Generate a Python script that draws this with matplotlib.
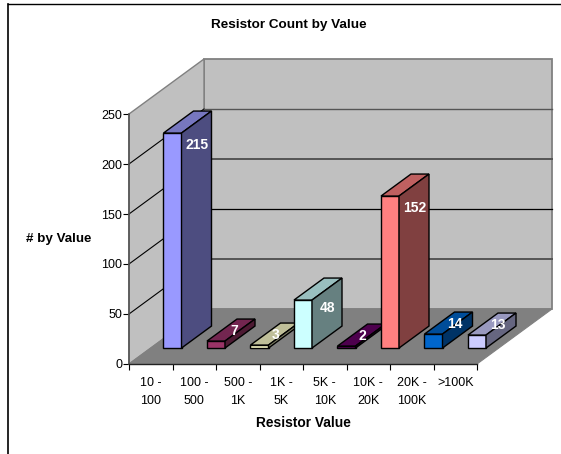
import matplotlib
matplotlib.use('Agg')
import matplotlib.pyplot as plt
from matplotlib.lines import Line2D
from matplotlib.patches import Polygon

plt.rcParams['font.family'] = ['Liberation Sans', 'DejaVu Sans']

# resistor counts per value range
categories = ['10 -\n100', '100 -\n500', '500 -\n1K', '1K -\n5K', '5K -\n10K',
              '10K -\n20K', '20K -\n100K', '>100K']
counts = [215, 7, 3, 48, 2, 152, 14, 13]
bar_colors = ['#9999FF', '#993366', '#FFFFCC', '#CCFFFF', '#660066', '#FF8080',
              '#0066CC', '#CCCCFF']
top_colors = ['#7777BF', '#732650', '#BFBF99', '#99BFBF', '#4D004D', '#BF6060',
              '#004D99', '#9999BF']
side_colors = ['#4D4D80', '#4D1A33', '#808066', '#668080', '#330033', '#804040',
               '#003366', '#666680']
y_ticks = [0, 50, 100, 150, 200, 250]

W, H = 561, 454
# depth of the 3d box, in axis units
DEPTH_X = 75 / 43.5
DEPTH_Y = 55
BAR_WIDTH = 0.414
BAR_FRONT = 0.29
BAR_BACK = 0.69


def project(x, y, d):
    # shift a point from the front plane towards the back wall
    return (x + d * DEPTH_X, y + d * DEPTH_Y)


def face(ax, points, color, edge, lw, z):
    ax.add_patch(Polygon(points, closed=True, facecolor=color, edgecolor=edge,
                         linewidth=lw, zorder=z, clip_on=False, joinstyle='miter'))


fig = plt.figure(figsize=(W / 100, H / 100), dpi=100)
ax = fig.add_axes([129 / W, (H - 364) / H, 348 / W, 250 / H])
n = len(categories)
ax.set_xlim(0, n)
ax.set_ylim(0, 250)
ax.patch.set_visible(False)

# walls and floor
face(ax, [project(0, 0, 1), project(n, 0, 1), project(n, 250, 1), project(0, 250, 1)],
     '#C0C0C0', '#808080', 1.3, 1)
face(ax, [project(0, 0, 0), project(0, 0, 1), project(0, 250, 1), project(0, 250, 0)],
     '#C0C0C0', '#808080', 1.0, 1)
face(ax, [project(0, 0, 0), project(n, 0, 0), project(n, 0, 1), project(0, 0, 1)],
     '#808080', '#808080', 0.8, 1.1)

# gridlines run along the side wall and across the back wall
back_styles = {50: ('#555555', 1.4), 100: ('#000000', 0.9),
               150: ('#555555', 1.4), 200: ('#555555', 1.0)}
for level in y_ticks[1:-1]:
    p0 = project(0, level, 0)
    p1 = project(0, level, 1)
    p2 = project(n, level, 1)
    ax.plot([p0[0], p1[0]], [p0[1], p1[1]], color='black', lw=0.8, zorder=1.5, clip_on=False)
    ax.plot([p1[0], p2[0]], [p1[1], p2[1]], color=back_styles[level][0],
            lw=back_styles[level][1], zorder=1.5, clip_on=False)

# bars, front face plus top and right side
for i, value in enumerate(counts):
    x0 = i + 0.5 - BAR_WIDTH / 2
    x1 = i + 0.5 + BAR_WIDTH / 2
    z = 3 + i * 0.01
    face(ax, [project(x0, 0, BAR_FRONT), project(x1, 0, BAR_FRONT),
              project(x1, value, BAR_FRONT), project(x0, value, BAR_FRONT)],
         bar_colors[i], 'black', 1.0, z)
    face(ax, [project(x0, value, BAR_FRONT), project(x1, value, BAR_FRONT),
              project(x1, value, BAR_BACK), project(x0, value, BAR_BACK)],
         top_colors[i], 'black', 1.0, z)
    face(ax, [project(x1, 0, BAR_FRONT), project(x1, 0, BAR_BACK),
              project(x1, value, BAR_BACK), project(x1, value, BAR_FRONT)],
         side_colors[i], 'black', 1.0, z)

# value labels sit on the side of tall bars and over the top of short ones
for i, value in enumerate(counts):
    x, y = project(i + 0.5, value, BAR_FRONT)
    if value >= 40:
        x, y = x + 24.5 / 43.5, y - min(12, value / 6)
    else:
        x, y = x + (15 + value * 0.45) / 43.5, y + 10
    ax.text(x, y, str(value), color='white', fontsize=10, fontweight='bold',
            ha='center', va='center', zorder=5, clip_on=False)

# axes
for side in ['top', 'right']:
    ax.spines[side].set_visible(False)
ax.spines['left'].set_color('#555555')
ax.spines['left'].set_linewidth(1.2)
ax.spines['bottom'].set_color('#222222')
ax.spines['bottom'].set_linewidth(1.0)
ax.set_yticks(y_ticks)
ax.set_xticks(range(n + 1))
ax.set_xticklabels([])
ax.set_xticks([i + 0.5 for i in range(n)], minor=True)
ax.set_xticklabels(categories, minor=True, fontsize=9, linespacing=1.68)
ax.tick_params(axis='x', which='major', length=4, width=0.8, color='black')
ax.tick_params(axis='x', which='minor', length=0, pad=9)
ax.tick_params(axis='y', length=4, width=0.8, color='black', labelsize=9, pad=1)

# titles are placed in figure pixels
fig.text(288.5 / W, 1 - 25 / H, 'Resistor Count by Value', fontsize=9.7, fontweight='bold',
         ha='center', va='center')
fig.text(58.5 / W, 1 - 239 / H, '# by Value', fontsize=9.6, fontweight='bold',
         ha='center', va='center')
fig.text(303.5 / W, 1 - 423 / H, 'Resistor Value', fontsize=9.9, fontweight='bold',
         ha='center', va='center')

# chart frame, top and left only
fig.add_artist(Line2D([7.5 / W, 7.5 / W], [0, 1 - 3.5 / H], color='black', lw=1.2))
fig.add_artist(Line2D([7.5 / W, 1], [1 - 3.5 / H, 1 - 3.5 / H], color='black', lw=1.0))

fig.savefig('out.png', dpi=100)
